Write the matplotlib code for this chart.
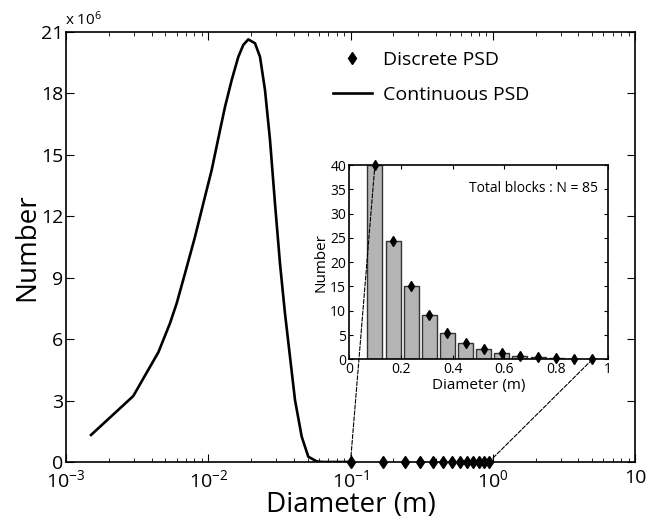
import numpy as np
import matplotlib
matplotlib.use('Agg')
import matplotlib.pyplot as plt
from matplotlib.patches import ConnectionPatch

plt.rcParams['font.family'] = ['Open Sans', 'DejaVu Sans']
plt.rcParams['mathtext.fontset'] = 'custom'
plt.rcParams['mathtext.rm'] = 'Open Sans'
plt.rcParams['mathtext.it'] = 'Open Sans'

# continuous PSD, number in millions
cont_d = [0.0015, 0.00297, 0.00446, 0.00538, 0.0060, 0.00687, 0.00807, 0.00923,
          0.01057, 0.01210, 0.01312, 0.01462, 0.01627, 0.01763, 0.01912, 0.02132,
          0.02311, 0.02505, 0.02717, 0.02945, 0.03193, 0.03462, 0.03755, 0.04071,
          0.04538, 0.05047, 0.05786, 0.0641, 0.1]
cont_n = [1.32, 3.22, 5.36, 6.77, 7.75, 9.22, 11.0, 12.63,
          14.26, 16.21, 17.35, 18.66, 19.79, 20.37, 20.64, 20.45,
          19.79, 18.17, 15.73, 12.63, 9.70, 7.26, 5.14, 3.03,
          1.24, 0.26, 0.03, 0.0, 0.0]

# discrete PSD (inset histogram)
disc_d = [0.10, 0.17, 0.24, 0.31, 0.38, 0.45, 0.52, 0.59, 0.66, 0.73, 0.80, 0.87, 0.94]
disc_n = [40, 24.3, 15, 9.1, 5.5, 3.3, 2.1, 1.3, 0.75, 0.4, 0.2, 0.1, 0.0]

fig = plt.figure(figsize=(6.47, 5.25), dpi=100)
ax = fig.add_axes([0.102, 0.12, 0.8795, 0.819])

ax.plot(cont_d, np.array(cont_n) * 1e6, color='k', lw=1.9, label='Continuous PSD')
ax.plot(disc_d, np.zeros(len(disc_d)), 'kd', ms=6, ls='none', clip_on=False,
        label='Discrete PSD', zorder=5)
ax.set_xscale('log')
ax.set_xlim(1e-3, 10)
ax.set_ylim(0, 21e6)
ax.set_yticks(np.arange(0, 22, 3) * 1e6)
ax.set_yticklabels([str(v) for v in range(0, 22, 3)])
ax.set_xticks([1e-3, 1e-2, 1e-1, 1, 10])
ax.set_xticklabels([r'$\mathregular{10^{-3}}$', r'$\mathregular{10^{-2}}$',
                    r'$\mathregular{10^{-1}}$', r'$\mathregular{10^{0}}$', '10'])
ax.tick_params(which='both', direction='in', top=True, right=True, labelsize=14)
ax.tick_params(axis='y', pad=2)
ax.tick_params(axis='x', pad=5)
ax.tick_params(which='major', length=6)
ax.tick_params(which='minor', length=3)
for s in ax.spines.values():
    s.set_linewidth(1.2)
ax.set_xlabel('Diameter (m)', fontsize=20, labelpad=0)
ax.set_ylabel('Number', fontsize=20, labelpad=0)
fig.text(0.100, 0.945, r'x 10$\mathregular{^{6}}$', fontsize=11, ha='left', va='bottom')

h, l = ax.get_legend_handles_labels()
ax.legend(h[::-1], l[::-1], loc='upper left', bbox_to_anchor=(0.455, 0.975),
          frameon=False, fontsize=14, handlelength=2.0, handletextpad=0.6,
          labelspacing=0.9, borderaxespad=0, bbox_transform=ax.transAxes)

# inset
ins = fig.add_axes([0.5394, 0.3156, 0.4003, 0.370])
ins.bar(disc_d, disc_n, width=0.058, color='#b4b4b4', edgecolor='#333333', lw=1.0)
ins.plot(disc_d, disc_n, 'kd', ms=5, clip_on=False, zorder=5)
ins.set_xlim(0, 1)
ins.set_ylim(0, 40)
ins.set_yticks(range(0, 41, 5))
ins.set_xticks([0, 0.2, 0.4, 0.6, 0.8, 1])
ins.set_xticklabels(['0', '0.2', '0.4', '0.6', '0.8', '1'])
ins.tick_params(direction='in', top=True, right=True, labelsize=10, length=3, pad=2)
for s in ins.spines.values():
    s.set_linewidth(1.2)
ins.set_xlabel('Diameter (m)', fontsize=11, labelpad=1)
ins.set_ylabel('Number', fontsize=11, labelpad=1)
ins.text(0.96, 0.92, 'Total blocks : N = 85', transform=ins.transAxes,
         ha='right', va='top', fontsize=10)

c1 = ConnectionPatch(xyA=(disc_d[0], 0), coordsA=ax.transData,
                     xyB=(disc_d[0], disc_n[0]), coordsB=ins.transData,
                     ls='--', lw=0.8, color='k', zorder=10)
c2 = ConnectionPatch(xyA=(disc_d[-1], 0), coordsA=ax.transData,
                     xyB=(disc_d[-1], disc_n[-1]), coordsB=ins.transData,
                     ls='--', lw=0.8, color='k', zorder=10)
fig.add_artist(c1)
fig.add_artist(c2)

fig.savefig('out.png', dpi=100)
